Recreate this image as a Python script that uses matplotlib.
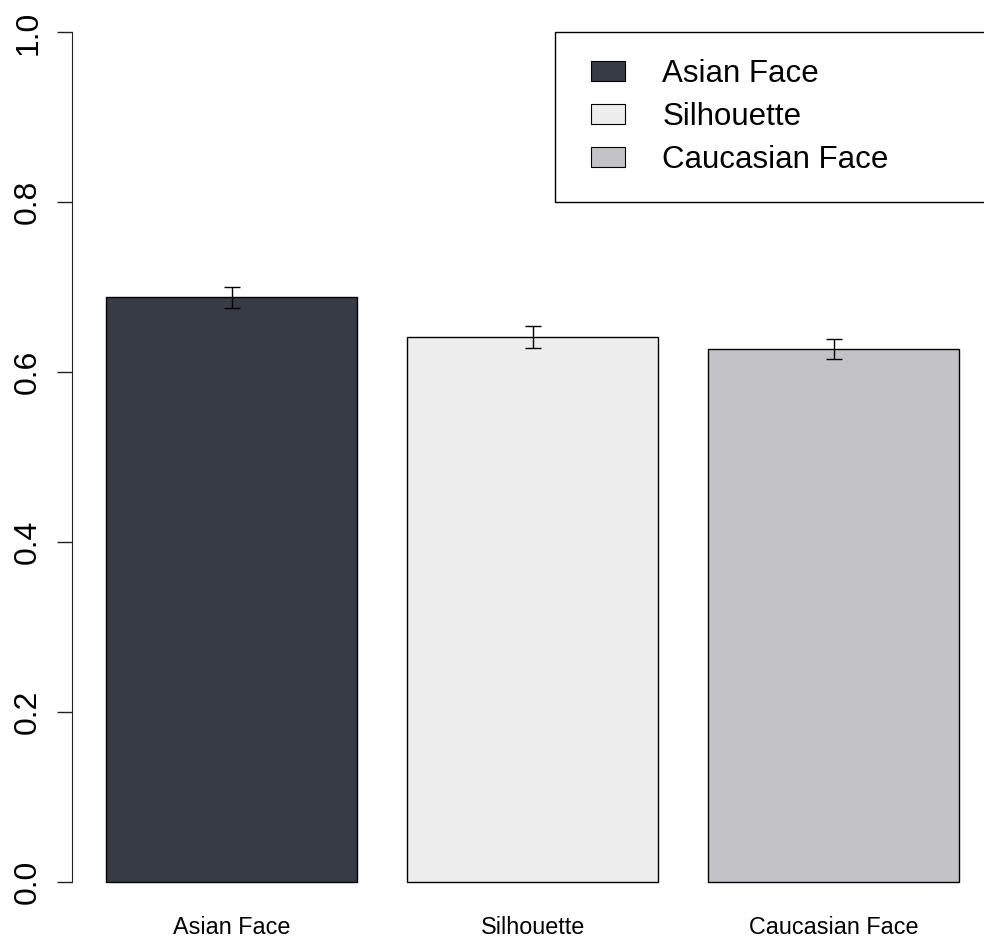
import matplotlib
matplotlib.use("Agg")
import matplotlib.pyplot as plt
from matplotlib.legend_handler import HandlerPatch
import numpy as np

plt.rcParams['font.family'] = ['Liberation Sans', 'DejaVu Sans']

conditions = ['Asian Face', 'Silhouette', 'Caucasian Face']
means = [0.688, 0.641, 0.627]
errors = [0.012, 0.013, 0.012]
colors = ['#373b46', '#ededed', '#c3c3c7']

# bar layout in the style of R barplot: width 1, space 0.2
width = 1.0
space = 0.2
lefts = space + np.arange(len(conditions)) * (width + space)
centers = lefts + width / 2

fig = plt.figure(figsize=(9.84, 9.41), dpi=100)
ax = fig.add_axes([0.0732, 0.0271, 0.936, 0.9745])

ax.bar(centers, means, width=width, color=colors, edgecolor='black',
       linewidth=1.0, label='_nolegend_')
ax.errorbar(centers, means, yerr=errors, fmt='none', ecolor='black',
            elinewidth=1.0, capsize=5.5, capthick=1.0)

span = lefts[-1] + width - lefts[0]
ax.set_xlim(lefts[0] - 0.04 * span, lefts[-1] + width + 0.04 * span)
ax.set_ylim(-0.04, 1.04)

for side in ['top', 'right', 'bottom']:
    ax.spines[side].set_visible(False)
ax.spines['left'].set_bounds(0, 1)
ax.spines['left'].set_color('#222222')

ax.set_yticks(np.arange(0, 1.01, 0.2))
ax.set_yticklabels(['%.1f' % v for v in np.arange(0, 1.01, 0.2)],
                   rotation=90, va='center', fontsize=23)
ax.tick_params(axis='y', length=10.8, width=1.0, pad=10, color='#222222')

ax.set_xticks(centers)
ax.set_xticklabels(conditions, fontsize=16.8)
ax.tick_params(axis='x', length=0, pad=0.5)


# legend swatches sit a little to the right inside their handle box
def swatch(legend, orig_handle, xdescent, ydescent, width, height, fontsize):
    shift = 6.5
    return plt.Rectangle((-xdescent + shift, -ydescent), width - shift, height)


handles = [plt.Rectangle((0, 0), 1, 1, facecolor=c, edgecolor='black', linewidth=0.8)
           for c in colors]
leg = ax.legend(handles, conditions, loc='upper left',
                bbox_to_anchor=(1.99, 0.0, 1.9, 1.0),
                bbox_transform=ax.transData, mode='expand',
                handler_map={plt.Rectangle: HandlerPatch(patch_func=swatch)},
                fontsize=22.5, frameon=True, fancybox=False, shadow=False,
                framealpha=1, edgecolor='black', borderpad=0.85,
                handlelength=1.38, handleheight=0.62, handletextpad=1.2,
                labelspacing=0.42, borderaxespad=0)
leg.get_frame().set_linewidth(1.0)

fig.savefig('out.png', dpi=100)
